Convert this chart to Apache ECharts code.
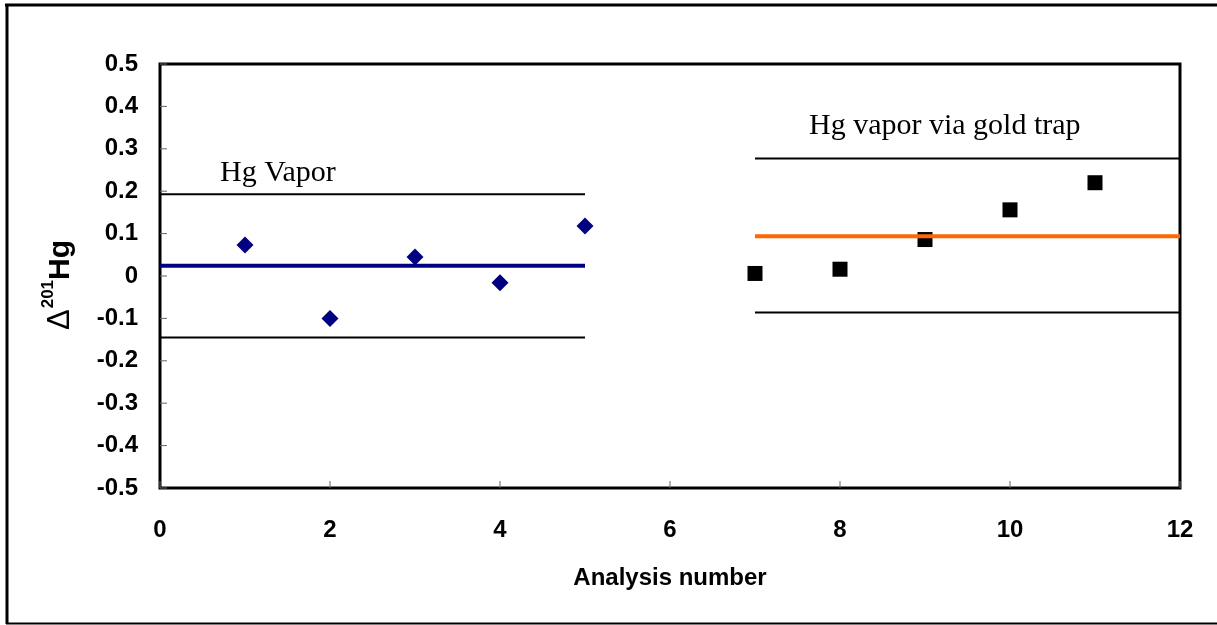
<!DOCTYPE html>
<html>
<head>
<meta charset="utf-8">
<script src="https://cdn.jsdelivr.net/npm/echarts@6/dist/echarts.min.js"></script>
<style>
  html, body { margin: 0; padding: 0; background: #fff; }
  #chart { width: 1217px; height: 625px; }
</style>
</head>
<body>
<div id="chart"></div>
<script>
// Analysis numbers and Δ201Hg values
const vaporX = [1, 2, 3, 4, 5];
const vaporY = [0.073, -0.100, 0.045, -0.016, 0.118];
const trapX = [7, 8, 9, 10, 11];
const trapY = [0.006, 0.016, 0.086, 0.156, 0.220];

// Mean and ±2SD reference levels for each group: [upper, mean, lower]
const vaporLevels = [0.193, 0.024, -0.145];
const vaporRange = [0, 5];
const trapLevels = [0.277, 0.094, -0.086];
const trapRange = [7, 12];

// Axis ticks
const xTickValues = [0, 2, 4, 6, 8, 10, 12];
const yTickValues = [-0.5, -0.4, -0.3, -0.2, -0.1, 0, 0.1, 0.2, 0.3, 0.4, 0.5];
const xTicks = { min: 0, max: 12, interval: 2 };
const yTicks = { min: -0.5, max: 0.5, interval: 0.1 };

const pairs = (xs, ys) => xs.map((x, i) => [x, ys[i]]);
const hline = (range, y) => [[range[0], y], [range[1], y]];

const chart = echarts.init(document.getElementById('chart'), null, { renderer: 'canvas' });

const sansFont = 'Liberation Sans, Arial, sans-serif';
const serifFont = 'Liberation Serif, Times New Roman, serif';
const tickFont = { fontFamily: sansFont, fontWeight: 'bold', fontSize: 24, color: '#000' };
const TICK_LEN = 7;

function refLine(range, y, color, width, z) {
  return {
    type: 'line', data: hline(range, y), symbol: 'none', silent: true, z: z,
    lineStyle: { color: color, width: width }
  };
}

// Short tick marks pointing into the plot from the bottom and left frame edges
const tickData = xTickValues.map(v => ['x', v]).concat(yTickValues.map(v => ['y', v]));
const tickSeries = {
  type: 'custom', silent: true, clip: false, z: 5,
  data: tickData.map((d, i) => [i]),
  renderItem: function (params, api) {
    const t = tickData[params.dataIndex];
    let p, shape;
    if (t[0] === 'x') {
      p = api.coord([t[1], yTicks.min]);
      shape = { x1: p[0], y1: p[1], x2: p[0], y2: p[1] - TICK_LEN };
    } else {
      p = api.coord([xTicks.min, t[1]]);
      shape = { x1: p[0], y1: p[1], x2: p[0] + TICK_LEN, y2: p[1] };
    }
    return { type: 'line', shape: shape, style: { stroke: '#666', lineWidth: 1 } };
  }
};

chart.setOption({
  animation: false,
  backgroundColor: '#fff',
  grid: { left: 160, top: 64, width: 1020, height: 424, show: true, borderColor: '#000', borderWidth: 3 },
  xAxis: {
    type: 'value', min: xTicks.min, max: xTicks.max, interval: xTicks.interval,
    name: 'Analysis number', nameLocation: 'middle', nameGap: 78,
    nameTextStyle: Object.assign({}, tickFont),
    axisLine: { show: false, onZero: false },
    axisTick: { show: false },
    axisLabel: Object.assign({ margin: 30 }, tickFont),
    splitLine: { show: false }
  },
  yAxis: {
    type: 'value', min: yTicks.min, max: yTicks.max, interval: yTicks.interval,
    name: '{d|Δ}{s|201}{h|Hg}', nameLocation: 'middle', nameRotate: 90, nameGap: 84,
    nameTextStyle: {
      rich: {
        d: { fontFamily: sansFont, fontSize: 31, color: '#000', lineHeight: 36, verticalAlign: 'bottom' },
        s: { fontFamily: sansFont, fontWeight: 'bold', fontSize: 17, color: '#000', lineHeight: 36, verticalAlign: 'top', padding: [0, 0, 0, 1] },
        h: { fontFamily: sansFont, fontWeight: 'bold', fontSize: 30, color: '#000', lineHeight: 36, verticalAlign: 'bottom', padding: [0, 18, 0, 0] }
      }
    },
    axisLine: { show: false, onZero: false },
    axisTick: { show: false },
    axisLabel: Object.assign({ margin: 22 }, tickFont),
    splitLine: { show: false }
  },
  series: [
    {
      type: 'scatter', data: pairs(vaporX, vaporY), symbol: 'diamond', symbolSize: 17, z: 3,
      itemStyle: { color: '#000080', opacity: 1 }
    },
    {
      type: 'scatter', data: pairs(trapX, trapY), symbol: 'rect', symbolSize: 15, z: 3,
      itemStyle: { color: '#000', opacity: 1 }
    },
    refLine(vaporRange, vaporLevels[0], '#000', 2, 2),
    refLine(vaporRange, vaporLevels[1], '#000080', 4, 4),
    refLine(vaporRange, vaporLevels[2], '#000', 2, 2),
    refLine(trapRange, trapLevels[0], '#000', 2, 2),
    refLine(trapRange, trapLevels[1], '#FF6600', 4, 4),
    refLine(trapRange, trapLevels[2], '#000', 2, 2),
    tickSeries
  ],
  graphic: [
    { type: 'text', left: 220, top: 158, style: { text: 'Hg Vapor', font: '30px ' + serifFont, fill: '#000' } },
    { type: 'text', left: 809, top: 111, style: { text: 'Hg vapor via gold trap', font: '30px ' + serifFont, fill: '#000' } },
    { type: 'line', shape: { x1: 5, y1: 5, x2: 1217, y2: 5 }, style: { stroke: '#000', lineWidth: 3 } },
    { type: 'line', shape: { x1: 7, y1: 4, x2: 7, y2: 624 }, style: { stroke: '#000', lineWidth: 3 } },
    { type: 'line', shape: { x1: 6, y1: 623.5, x2: 1217, y2: 623.5 }, style: { stroke: '#000', lineWidth: 2 } }
  ]
});
</script>
</body>
</html>
